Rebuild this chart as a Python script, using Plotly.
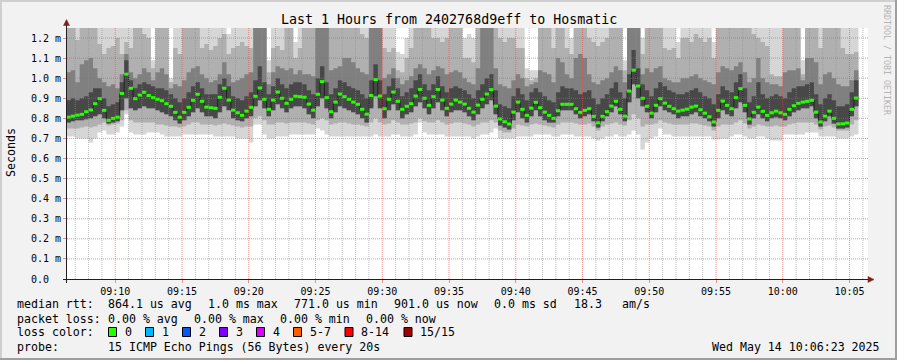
import pandas as pd
import plotly.graph_objects as go

# ---------------- data (values in milliseconds) ----------------
STEP_S = 20
first_step = pd.Timestamp("2025-05-14 09:06:20")
range_start = pd.Timestamp("2025-05-14 09:06:23")
range_end = pd.Timestamp("2025-05-14 10:06:23")

median_ms = [
    0.806, 0.811, 0.816, 0.82, 0.833, 0.842, 0.873, 0.898, 0.84, 0.79, 0.80, 0.806, 0.924, 1.02, 0.95, 0.898, 0.916, 0.93,
    0.914, 0.903, 0.895, 0.888, 0.873, 0.86, 0.83, 0.806, 0.83, 0.855, 0.89, 0.92, 0.885, 0.856, 0.853, 0.85, 0.905, 0.95,
    0.891, 0.841, 0.828, 0.815, 0.836, 0.855, 0.91, 0.951, 0.895, 0.845, 0.891, 0.931, 0.90, 0.875, 0.895, 0.91, 0.908, 0.905,
    0.871, 0.841, 0.92, 0.983, 0.903, 0.833, 0.881, 0.921, 0.908, 0.895, 0.881, 0.87, 0.845, 0.821, 0.914, 0.993, 0.911, 0.848, 0.895,
    0.931, 0.885, 0.845, 0.86, 0.873, 0.911, 0.944, 0.90, 0.865, 0.908, 0.944, 0.891, 0.85, 0.871, 0.891, 0.881, 0.871, 0.85,
    0.831, 0.866, 0.895, 0.921, 0.943, 0.861, 0.797, 0.783, 0.772, 0.831, 0.881, 0.845, 0.815, 0.851, 0.88, 0.853, 0.831, 0.815,
    0.80, 0.838, 0.87, 0.87, 0.87, 0.848, 0.83, 0.84, 0.848, 0.81, 0.778, 0.81, 0.833, 0.861, 0.885, 0.845, 0.811, 0.936,
    1.04, 0.961, 0.90, 0.86, 0.826, 0.865, 0.898, 0.876, 0.86, 0.848, 0.836, 0.841, 0.846, 0.856, 0.861, 0.843, 0.826, 0.808,
    0.782, 0.84, 0.886, 0.865, 0.848, 0.903, 0.948, 0.865, 0.797, 0.83, 0.856, 0.835, 0.815, 0.828, 0.836, 0.828, 0.82,
    0.845, 0.863, 0.875, 0.881, 0.885, 0.89, 0.831, 0.782, 0.811, 0.836, 0.80, 0.772, 0.773, 0.777, 0.845, 0.901,
]

smoke_min = [
    0.71, 0.71, 0.70, 0.70, 0.70, 0.68, 0.70, 0.73, 0.74, 0.72, 0.72, 0.73, 0.76, 0.82, 0.73, 0.72, 0.72, 0.72,
    0.73, 0.73, 0.73, 0.72, 0.71, 0.71, 0.71, 0.71, 0.72, 0.72, 0.72, 0.72, 0.72, 0.72, 0.72, 0.71, 0.71, 0.71,
    0.71, 0.71, 0.70, 0.70, 0.70, 0.68, 0.77, 0.77, 0.72, 0.70, 0.70, 0.71, 0.71, 0.71, 0.72, 0.72, 0.72, 0.72,
    0.72, 0.72, 0.75, 0.74, 0.72, 0.71, 0.71, 0.71, 0.71, 0.71, 0.71, 0.71, 0.71, 0.71, 0.71, 0.72, 0.71, 0.71, 0.71,
    0.72, 0.72, 0.71, 0.71, 0.71, 0.72, 0.78, 0.73, 0.72, 0.72, 0.72, 0.72, 0.71, 0.71, 0.71, 0.71, 0.71, 0.71,
    0.70, 0.71, 0.72, 0.72, 0.73, 0.75, 0.70, 0.70, 0.70, 0.70, 0.71, 0.71, 0.71, 0.71, 0.72, 0.72, 0.72, 0.72,
    0.71, 0.71, 0.72, 0.72, 0.72, 0.71, 0.71, 0.71, 0.71, 0.70, 0.69, 0.70, 0.71, 0.71, 0.72, 0.71, 0.71, 0.72,
    0.74, 0.72, 0.645, 0.68, 0.70, 0.71, 0.75, 0.72, 0.72, 0.71, 0.71, 0.71, 0.71, 0.71, 0.71, 0.71, 0.71, 0.71,
    0.695, 0.695, 0.70, 0.70, 0.71, 0.72, 0.72, 0.71, 0.70, 0.70, 0.71, 0.71, 0.70, 0.69, 0.69, 0.69, 0.72,
    0.72, 0.72, 0.72, 0.72, 0.73, 0.73, 0.73, 0.71, 0.71, 0.71, 0.71, 0.70, 0.70, 0.70, 0.71, 0.72,
]

smoke_lo = [
    0.75, 0.75, 0.75, 0.755, 0.76, 0.755, 0.76, 0.77, 0.78, 0.765, 0.77, 0.775, 0.79, 0.84, 0.79, 0.78, 0.78, 0.78,
    0.78, 0.78, 0.77, 0.77, 0.765, 0.76, 0.76, 0.755, 0.76, 0.77, 0.78, 0.78, 0.77, 0.77, 0.77, 0.765, 0.77, 0.775,
    0.77, 0.765, 0.76, 0.755, 0.76, 0.76, 0.80, 0.81, 0.79, 0.77, 0.77, 0.78, 0.78, 0.775, 0.78, 0.78, 0.78, 0.78,
    0.775, 0.77, 0.79, 0.80, 0.79, 0.77, 0.775, 0.78, 0.78, 0.775, 0.77, 0.77, 0.765, 0.76, 0.78, 0.80, 0.78, 0.77, 0.775,
    0.79, 0.78, 0.77, 0.77, 0.775, 0.78, 0.80, 0.785, 0.78, 0.78, 0.79, 0.78, 0.77, 0.775, 0.78, 0.78, 0.775, 0.77,
    0.76, 0.77, 0.78, 0.78, 0.79, 0.78, 0.74, 0.73, 0.73, 0.75, 0.77, 0.765, 0.76, 0.77, 0.775, 0.77, 0.765, 0.76,
    0.755, 0.77, 0.78, 0.78, 0.78, 0.775, 0.77, 0.77, 0.775, 0.76, 0.74, 0.76, 0.77, 0.775, 0.78, 0.77, 0.765, 0.79,
    0.82, 0.80, 0.76, 0.77, 0.77, 0.775, 0.79, 0.78, 0.775, 0.77, 0.77, 0.77, 0.77, 0.775, 0.775, 0.77, 0.765, 0.76,
    0.74, 0.76, 0.77, 0.77, 0.77, 0.78, 0.79, 0.775, 0.75, 0.76, 0.77, 0.765, 0.76, 0.76, 0.765, 0.76, 0.76,
    0.77, 0.775, 0.78, 0.78, 0.78, 0.78, 0.77, 0.745, 0.76, 0.765, 0.755, 0.74, 0.74, 0.74, 0.77, 0.79,
]

core_lo = [
    0.78, 0.785, 0.79, 0.79, 0.795, 0.80, 0.81, 0.82, 0.80, 0.775, 0.78, 0.785, 0.84, 0.90, 0.85, 0.84, 0.85, 0.86,
    0.85, 0.85, 0.84, 0.83, 0.82, 0.81, 0.79, 0.775, 0.79, 0.81, 0.83, 0.85, 0.83, 0.81, 0.81, 0.80, 0.83, 0.86,
    0.84, 0.80, 0.79, 0.785, 0.80, 0.81, 0.86, 0.89, 0.85, 0.81, 0.84, 0.87, 0.85, 0.83, 0.85, 0.86, 0.86, 0.85,
    0.82, 0.80, 0.86, 0.90, 0.85, 0.80, 0.83, 0.86, 0.85, 0.84, 0.83, 0.82, 0.80, 0.78, 0.85, 0.91, 0.85, 0.80, 0.84,
    0.87, 0.84, 0.80, 0.82, 0.83, 0.86, 0.88, 0.85, 0.82, 0.85, 0.88, 0.84, 0.81, 0.83, 0.84, 0.84, 0.83, 0.81,
    0.79, 0.82, 0.85, 0.87, 0.89, 0.82, 0.765, 0.755, 0.745, 0.79, 0.83, 0.80, 0.78, 0.81, 0.84, 0.81, 0.79, 0.78,
    0.78, 0.81, 0.84, 0.84, 0.84, 0.82, 0.80, 0.81, 0.82, 0.785, 0.755, 0.785, 0.81, 0.83, 0.86, 0.82, 0.785, 0.88,
    0.97, 0.90, 0.86, 0.83, 0.80, 0.83, 0.86, 0.84, 0.83, 0.82, 0.80, 0.81, 0.81, 0.82, 0.83, 0.81, 0.80, 0.785,
    0.76, 0.80, 0.84, 0.82, 0.81, 0.85, 0.88, 0.83, 0.77, 0.80, 0.82, 0.80, 0.785, 0.80, 0.805, 0.80, 0.79,
    0.81, 0.83, 0.84, 0.85, 0.85, 0.86, 0.80, 0.76, 0.785, 0.81, 0.775, 0.75, 0.75, 0.755, 0.81, 0.86,
]

core_hi = [
    0.89, 0.90, 0.89, 0.90, 0.91, 0.93, 0.95, 0.95, 0.90, 0.86, 0.87, 0.88, 0.98, 1.09, 0.99, 0.95, 0.97, 0.98,
    0.97, 0.96, 0.95, 0.95, 0.94, 0.92, 0.90, 0.88, 0.90, 0.93, 0.96, 0.98, 0.95, 0.92, 0.92, 0.92, 0.97, 1.00,
    0.96, 0.91, 0.90, 0.89, 0.91, 0.93, 0.99, 1.06, 0.98, 0.92, 0.96, 1.00, 0.97, 0.95, 0.97, 0.98, 0.98, 0.97,
    0.94, 0.92, 1.00, 1.06, 0.98, 0.92, 0.95, 0.99, 0.98, 0.96, 0.95, 0.94, 0.92, 0.90, 0.99, 1.07, 0.99, 0.92, 0.96,
    1.00, 0.95, 0.91, 0.93, 0.95, 0.99, 1.02, 0.97, 0.94, 0.97, 1.01, 0.96, 0.93, 0.95, 0.96, 0.95, 0.94, 0.92,
    0.90, 0.94, 0.97, 1.00, 1.02, 0.94, 0.87, 0.86, 0.85, 0.91, 0.95, 0.92, 0.89, 0.93, 0.95, 0.93, 0.91, 0.89,
    0.88, 0.93, 0.96, 0.95, 0.95, 0.94, 0.92, 0.93, 0.94, 0.90, 0.87, 0.90, 0.92, 0.95, 0.98, 0.93, 0.90, 1.02,
    1.14, 1.05, 0.97, 0.94, 0.91, 0.95, 0.98, 0.96, 0.94, 0.93, 0.92, 0.92, 0.93, 0.94, 0.95, 0.93, 0.91, 0.90,
    0.87, 0.92, 0.96, 0.94, 0.93, 0.98, 1.02, 0.95, 0.88, 0.91, 0.98, 0.92, 0.90, 0.91, 0.92, 0.91, 0.90,
    0.93, 0.95, 0.96, 0.96, 0.97, 0.98, 0.92, 0.87, 0.90, 0.92, 0.89, 0.86, 0.86, 0.87, 0.93, 0.99,
]

smoke_hi = [
    1.03, 1.04, 0.98, 1.07, 1.09, 1.10, 1.05, 1.00, 0.98, 0.96, 0.97, 0.95, 1.02, 1.12, 1.03, 1.00, 1.02, 1.05,
    1.03, 0.99, 1.03, 1.05, 1.02, 0.95, 0.97, 0.96, 0.99, 1.03, 1.05, 1.06, 1.02, 1.00, 0.98, 0.99, 1.02, 1.08,
    1.02, 0.98, 0.99, 1.00, 1.02, 1.03, 1.30, 1.30, 1.30, 0.97, 1.03, 1.06, 1.05, 1.04, 1.05, 1.02, 1.04, 1.02,
    1.02, 1.01, 1.30, 1.30, 1.30, 1.04, 1.05, 1.06, 1.10, 1.10, 1.08, 1.05, 1.03, 1.02, 1.30, 1.30, 1.30, 1.00, 1.02,
    1.05, 1.00, 0.97, 0.99, 1.01, 1.05, 1.07, 1.05, 1.02, 1.04, 1.06, 1.05, 1.02, 1.03, 1.04, 1.03, 1.00, 0.98,
    0.97, 1.05, 1.30, 1.30, 1.30, 1.05, 0.97, 0.96, 0.95, 0.99, 1.02, 1.00, 0.96, 0.97, 0.98, 1.04, 1.03, 1.02,
    0.98, 1.10, 1.08, 1.02, 1.00, 1.10, 1.12, 1.10, 1.02, 0.98, 0.97, 0.99, 1.00, 1.03, 1.06, 1.04, 0.98, 1.30,
    1.30, 1.30, 1.02, 1.05, 1.03, 1.05, 1.06, 1.00, 0.99, 0.98, 0.98, 1.00, 1.00, 1.01, 1.02, 1.00, 0.99, 0.98,
    0.97, 1.03, 1.06, 1.05, 1.04, 1.06, 1.08, 1.03, 0.98, 1.00, 1.10, 1.00, 0.98, 0.97, 0.97, 0.96, 1.03,
    1.04, 1.04, 1.05, 0.99, 1.10, 1.10, 1.08, 0.97, 1.02, 1.03, 1.00, 0.97, 0.96, 0.96, 0.99, 1.04,
]

smoke_top = [
    1.3, 1.3, 1.19, 1.3, 1.3, 1.3, 1.3, 1.17, 1.12, 1.15, 1.16, 1.2, 1.12, 1.18, 1.15, 1.3, 1.3, 1.22,
    1.2, 1.05, 1.3, 1.3, 1.25, 0.98, 1.15, 1.12, 1.3, 1.3, 1.26, 1.3, 1.15, 1.17, 1.14, 1.16, 1.2, 1.22,
    1.12, 1.15, 1.16, 1.18, 1.16, 1.15, 1.3, 1.3, 1.3, 1.03, 1.15, 1.16, 1.14, 1.3, 1.3, 1.1, 1.15, 1.3,
    1.3, 1.3, 1.3, 1.3, 1.3, 1.3, 1.3, 1.3, 1.3, 1.3, 1.3, 1.3, 1.22, 1.2, 1.3, 1.3, 1.3, 1.15, 1.13,
    1.15, 1.04, 1.03, 1.1, 1.15, 1.3, 1.3, 1.3, 1.25, 1.2, 1.2, 1.18, 1.2, 1.3, 1.3, 1.3, 1.1, 1.1,
    1.08, 1.3, 1.3, 1.3, 1.3, 1.3, 1.2, 1.18, 1.2, 1.2, 1.15, 1.15, 1.0, 0.99, 1.0, 1.3, 1.3, 1.3,
    1.15, 1.3, 1.25, 1.15, 1.12, 1.3, 1.3, 1.3, 1.2, 1.18, 1.16, 1.18, 1.2, 1.3, 1.3, 1.3, 1.04, 1.3,
    1.3, 1.3, 1.12, 1.3, 1.3, 1.3, 1.3, 1.15, 1.14, 1.15, 1.1, 1.2, 1.2, 1.18, 1.22, 1.2, 1.18, 1.2,
    1.1, 1.3, 1.3, 1.3, 1.3, 1.3, 1.3, 1.3, 1.25, 1.22, 1.2, 1.18, 1.16, 1.02, 1.01, 1.01, 1.3,
    1.3, 1.3, 1.3, 1.02, 1.3, 1.3, 1.3, 1.15, 1.3, 1.3, 1.3, 1.3, 1.15, 1.12, 1.12, 1.13,
]

smoke_max = [
    1.3, 1.3, 1.3, 1.3, 1.3, 1.3, 1.3, 1.3, 1.3, 1.3, 1.3, 1.3, 1.3, 1.3, 1.3, 1.3, 1.3, 1.3,
    1.3, 1.09, 1.3, 1.3, 1.3, 1.0, 1.3, 1.3, 1.3, 1.3, 1.3, 1.3, 1.3, 1.3, 1.3, 1.3, 1.3, 1.3,
    1.22, 1.3, 1.3, 1.3, 1.3, 1.3, 1.3, 1.3, 1.3, 1.09, 1.3, 1.3, 1.3, 1.3, 1.3, 1.18, 1.3, 1.3,
    1.3, 1.3, 1.3, 1.3, 1.3, 1.3, 1.3, 1.3, 1.3, 1.3, 1.3, 1.3, 1.3, 1.3, 1.3, 1.3, 1.3, 1.3, 1.3,
    1.3, 1.13, 1.12, 1.2, 1.3, 1.3, 1.3, 1.3, 1.3, 1.3, 1.3, 1.3, 1.3, 1.3, 1.3, 1.3, 1.2, 1.22,
    1.2, 1.3, 1.3, 1.3, 1.3, 1.3, 1.3, 1.3, 1.3, 1.3, 1.3, 1.3, 1.05, 1.04, 1.04, 1.3, 1.3, 1.3,
    1.3, 1.3, 1.3, 1.3, 1.2, 1.3, 1.3, 1.3, 1.3, 1.3, 1.3, 1.3, 1.3, 1.3, 1.3, 1.3, 1.09, 1.3,
    1.3, 1.3, 1.2, 1.3, 1.3, 1.3, 1.3, 1.3, 1.3, 1.3, 1.18, 1.3, 1.3, 1.3, 1.3, 1.3, 1.3, 1.3,
    1.18, 1.3, 1.3, 1.3, 1.3, 1.3, 1.3, 1.3, 1.3, 1.3, 1.3, 1.3, 1.3, 1.3, 1.3, 1.3, 1.3,
    1.3, 1.3, 1.3, 1.09, 1.3, 1.3, 1.3, 1.3, 1.3, 1.3, 1.3, 1.3, 1.3, 1.3, 1.3, 1.3,
]

y_tick_vals = [0.0, 0.1, 0.2, 0.3, 0.4, 0.5, 0.6, 0.7, 0.8, 0.9, 1.0, 1.1, 1.2]
y_tick_text = ["0.0\u00a0\u00a0", "0.1 m", "0.2 m", "0.3 m", "0.4 m", "0.5 m", "0.6 m",
               "0.7 m", "0.8 m", "0.9 m", "1.0 m", "1.1 m", "1.2 m"]
x_tick_text = ["09:10", "09:15", "09:20", "09:25", "09:30", "09:35", "09:40",
               "09:45", "09:50", "09:55", "10:00", "10:05"]

loss_labels = ["0", "1", "2", "3", "4", "5-7", "8-14", "15/15"]
loss_colors = ["#26ff00", "#00b8ff", "#0059ff", "#7e00ff", "#dd00ff", "#ff5e00", "#ff0000", "#a10000"]

# ---------------- geometry helpers ----------------
W, H = 897, 360
L, R, T, B = 67, 868, 28, 279
PW, PH = R - L, B - T


def xp(px):
    return (px - L) / PW


def yp(py):
    return (B - py) / PH


n = len(median_ms)
for arr in (smoke_min, smoke_lo, core_lo, core_hi, smoke_hi, smoke_top, smoke_max):
    assert len(arr) == n, len(arr)

starts = [first_step + pd.Timedelta(seconds=STEP_S * i) for i in range(n)]
edges = starts + [starts[-1] + pd.Timedelta(seconds=STEP_S)]


def stepy(v):
    return list(v) + [v[-1]]


fig = go.Figure()

bands = [
    (smoke_min, smoke_max, "#d6d6d6"),
    (smoke_lo, smoke_top, "#b0b0b0"),
    (core_lo, smoke_hi, "#808080"),
    (core_lo, core_hi, "#484848"),
]
for lo, hi, col in bands:
    fig.add_trace(go.Scatter(x=edges, y=stepy(lo), mode="lines",
                             line=dict(width=0, shape="hv", color=col),
                             hoverinfo="skip", showlegend=False))
    fig.add_trace(go.Scatter(x=edges, y=stepy(hi), mode="lines",
                             line=dict(width=0, shape="hv", color=col),
                             fill="tonexty", fillcolor=col,
                             hoverinfo="skip", showlegend=False))

# median: dark step line, then green 3px blocks on every step
fig.add_trace(go.Scatter(x=edges, y=stepy(median_ms), mode="lines",
                         line=dict(width=1, shape="hv", color="#202020"),
                         hoverinfo="skip", showlegend=False))
seg_x, seg_y = [], []
for i, m in enumerate(median_ms):
    seg_x += [edges[i], edges[i + 1], None]
    seg_y += [m, m, None]
fig.add_trace(go.Scatter(x=seg_x, y=seg_y, mode="lines", connectgaps=False,
                         line=dict(width=3, color="#26ff00"),
                         hoverinfo="skip", showlegend=False))

# ---------------- grid (drawn above the smoke like rrdtool) ----------------
shapes = []
day = pd.Timestamp("2025-05-14 09:00:00")
minor_col = "rgba(143,143,143,0.6)"
major_col = "rgba(222,79,79,0.6)"
for minute in range(7, 67):
    t = day + pd.Timedelta(minutes=minute)
    if t > range_end:
        break
    col = major_col if minute % 5 == 0 else minor_col
    shapes.append(dict(type="line", xref="x", yref="paper", x0=t, x1=t, y0=0, y1=1,
                       line=dict(color=col, width=1, dash="1px,1px"), layer="above"))
for v in y_tick_vals[1:]:
    shapes.append(dict(type="line", xref="paper", yref="y", x0=0, x1=1, y0=v, y1=v,
                       line=dict(color=major_col, width=1, dash="1px,1px"), layer="above"))

# axes lines and arrows
axis_col = "#1f1f1f"
arrow_col = "#7f1f1f"
shapes.append(dict(type="line", xref="paper", yref="paper", x0=xp(63), x1=xp(868), y0=yp(279.5), y1=yp(279.5),
                   line=dict(color=axis_col, width=1), layer="above"))
shapes.append(dict(type="line", xref="paper", yref="paper", x0=xp(66.5), x1=xp(66.5), y0=yp(283), y1=yp(25),
                   line=dict(color=axis_col, width=1), layer="above"))
shapes.append(dict(type="path", xref="paper", yref="paper",
                   path=f"M {xp(63.5)},{yp(25.5)} L {xp(69.5)},{yp(25.5)} L {xp(66.5)},{yp(19.5)} Z",
                   fillcolor=arrow_col, line=dict(color=arrow_col, width=0.5), layer="above"))
shapes.append(dict(type="path", xref="paper", yref="paper",
                   path=f"M {xp(868)},{yp(276.5)} L {xp(868)},{yp(282.5)} L {xp(874)},{yp(279.5)} Z",
                   fillcolor=arrow_col, line=dict(color=arrow_col, width=0.5), layer="above"))

# frame of the image
shapes.append(dict(type="rect", xref="paper", yref="paper", x0=xp(0), x1=xp(W), y0=yp(0), y1=yp(2),
                   fillcolor="#cfcfcf", line=dict(width=0), layer="below"))
shapes.append(dict(type="rect", xref="paper", yref="paper", x0=xp(0), x1=xp(2), y0=yp(0), y1=yp(H),
                   fillcolor="#cfcfcf", line=dict(width=0), layer="below"))
shapes.append(dict(type="rect", xref="paper", yref="paper", x0=xp(0), x1=xp(W), y0=yp(H - 2), y1=yp(H),
                   fillcolor="#9e9e9e", line=dict(width=0), layer="below"))
shapes.append(dict(type="rect", xref="paper", yref="paper", x0=xp(W - 2), x1=xp(W), y0=yp(0), y1=yp(H),
                   fillcolor="#9e9e9e", line=dict(width=0), layer="below"))

# ---------------- texts ----------------
FONT = "DejaVu Sans Mono"
annotations = []


def text(s, px, py, anchor="left", size=11.6, color="#000000", angle=0):
    annotations.append(dict(text=s, x=xp(px), y=yp(py), xref="paper", yref="paper",
                            xanchor=anchor, yanchor="middle", showarrow=False, textangle=angle,
                            font=dict(family=FONT, size=size, color=color), borderpad=0))


text("Last 1 Hours from 2402768d9eff to Hosmatic", 448.5, 19, anchor="center", size=13.3)
text("Seconds", 11, 153, anchor="center", size=11.6, angle=-90)
text("RRDTOOL / TOBI OETIKER", 887, 60, anchor="center", size=8.3, color="#b4b4b4", angle=90)

row1, row2, row3, row4 = 304, 318.5, 332, 346.5
for s, px in [("median rtt:", 16), ("864.1 us avg", 107), ("1.0 ms max", 207), ("771.0 us min", 292.5),
              ("901.0 us now", 393), ("0.0 ms sd", 493), ("18.3", 572.5), ("am/s", 621)]:
    text(s, px, row1)
for s, px in [("packet loss:", 16), ("0.00 % avg", 107), ("0.00 % max", 193), ("0.00 % min", 279),
              ("0.00 % now", 365)]:
    text(s, px, row2)
text("loss color:", 16, row3)
box_x = [108.5, 145.5, 182.5, 219.5, 256.5, 293.5, 345, 404]
for lbl, col, bx in zip(loss_labels, loss_colors, box_x):
    shapes.append(dict(type="rect", xref="paper", yref="paper", x0=xp(bx), x1=xp(bx + 8),
                       y0=yp(336.5), y1=yp(327.5), fillcolor=col,
                       line=dict(color="#000000", width=1), layer="above"))
    text(lbl, bx + 15, row3)
text("probe:", 16, row4)
text("15 ICMP Echo Pings (56 Bytes) every 20s", 107, row4)
text("Wed May 14 10:06:23 2025", 881, row4, anchor="right")

tick_times = [day + pd.Timedelta(minutes=m) for m in range(10, 66, 5)]

fig.update_layout(
    width=W, height=H,
    margin=dict(l=L, r=W - R, t=T, b=H - B, pad=0),
    paper_bgcolor="#f2f2f2", plot_bgcolor="#ffffff",
    showlegend=False,
    shapes=shapes, annotations=annotations,
    xaxis=dict(type="date", range=[range_start, range_end], showgrid=False, zeroline=False,
               showline=False, tickmode="array", tickvals=tick_times, ticktext=x_tick_text,
               ticks="outside", ticklen=3, tickcolor=major_col,
               tickfont=dict(family=FONT, size=10, color="#000000"), fixedrange=True),
    yaxis=dict(range=[0, 1.25], showgrid=False, zeroline=False, showline=False,
               tickmode="array", tickvals=y_tick_vals, ticktext=y_tick_text,
               ticks="outside", ticklen=3, tickcolor=major_col,
               tickfont=dict(family=FONT, size=10, color="#000000"), fixedrange=True),
)

fig.write_html("out.html", config={"displayModeBar": False},
               post_script="document.body.style.margin='0px';document.body.style.overflow='hidden';")
